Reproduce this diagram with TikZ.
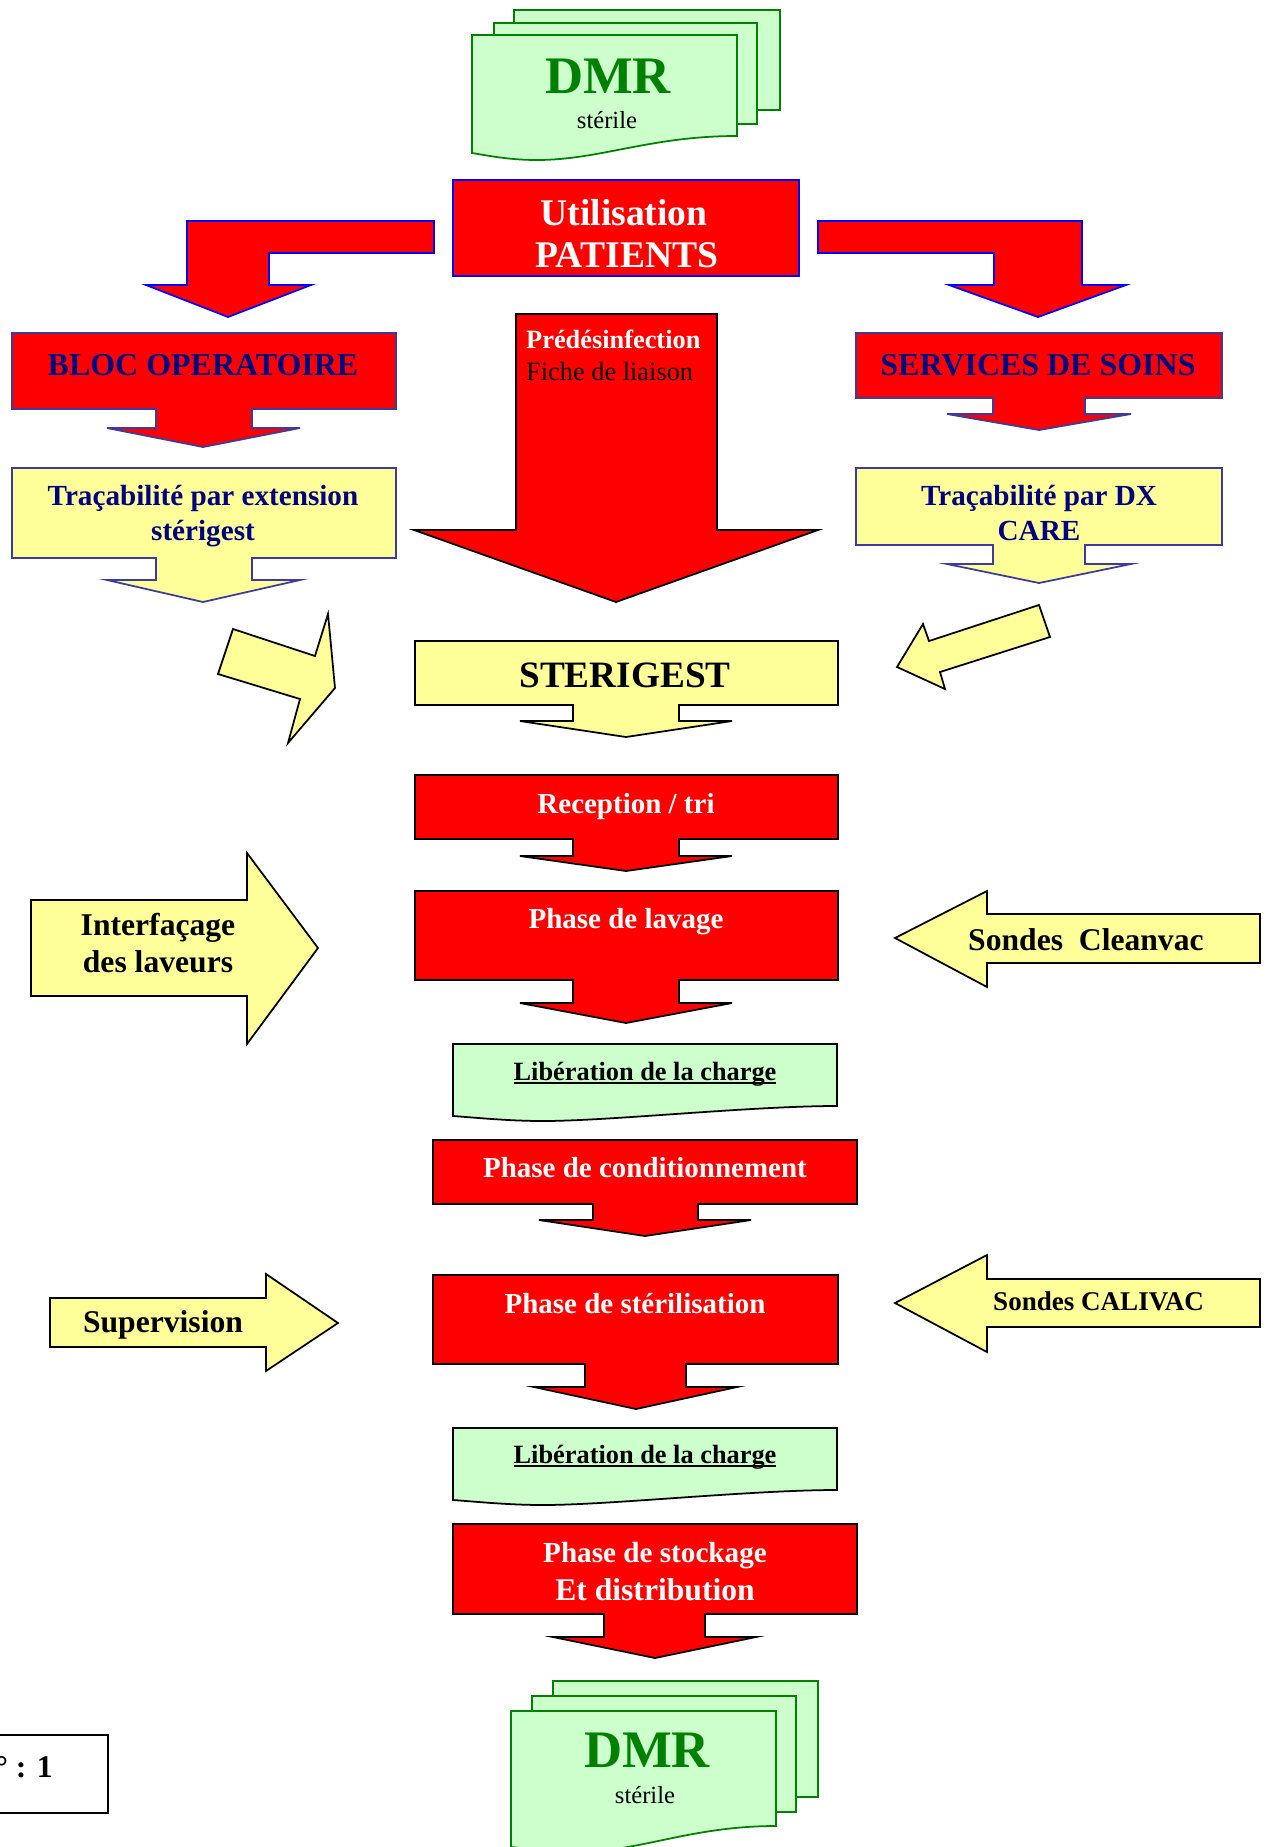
\documentclass[tikz,border=0pt]{standalone}
\usepackage{fontspec}
\setmainfont{Liberation Serif}
\usetikzlibrary{positioning}

\definecolor{lightyellow}{RGB}{255,255,153}
\definecolor{lightgreen}{RGB}{204,255,204}
\definecolor{darkgreen}{RGB}{0,128,0}
\definecolor{navytext}{RGB}{0,0,128}
\definecolor{navyedge}{RGB}{60,60,160}

\newcommand{\ultext}[1]{\setbox0\hbox{#1}\rlap{\rule[-2.2pt]{\wd0}{0.9pt}}\box0}

\begin{document}
\begin{tikzpicture}[x=0.02cm,y=-0.02cm,
    redshape/.style={draw=black,fill=red,line width=1pt},
    redblue/.style={draw=blue,fill=red,line width=1pt},
    rednavy/.style={draw=navyedge,fill=red,line width=1pt},
    yellownavy/.style={draw=navyedge,fill=lightyellow,line width=1pt},
    yellowshape/.style={draw=black,fill=lightyellow,line width=1pt},
    greendoc/.style={draw=darkgreen,fill=lightgreen,line width=1pt},
    greenlib/.style={draw=black,fill=lightgreen,line width=1pt},
    whitetxt/.style={anchor=base,text=white,font=\fontsize{16.5}{19}\selectfont\bfseries},
    navytxt/.style={anchor=base,text=navytext,font=\fontsize{18.2}{21}\selectfont\bfseries},
    blacktxt/.style={anchor=base,text=black,font=\fontsize{18}{21}\selectfont\bfseries},
    dmrtxt/.style={anchor=base,text=darkgreen,font=\fontsize{30}{34}\selectfont\bfseries},
    steriletxt/.style={anchor=base,text=black,font=\fontsize{14}{16}\selectfont}
  ]
    \useasboundingbox (0,0) rectangle (1270,1847);
    \clip (0,0) rectangle (1270,1847);

    % DMR sterile (top)
    \draw[greendoc] (514,10) rectangle (780,110);
    \draw[greendoc] (494,23) rectangle (757,124);
    \draw[greendoc] (472,35) -- (737,35) -- (737,136)
      .. controls (650,136) and (600,160) .. (537,160)
      .. controls (510,160) and (490,156) .. (472,153) -- cycle;
    \node[dmrtxt] (dmrtop) at (608,93) {DMR};
    \node[steriletxt] (steriletop) at (607,128) {stérile};

    % Utilisation patients and the two bent arrows
    \draw[redblue] (453,180) rectangle (799,276);
    \node[whitetxt,font=\fontsize{21.4}{24}\selectfont\bfseries] (util1) at (624,225) {Utilisation};
    \node[whitetxt,font=\fontsize{21.4}{24}\selectfont\bfseries] (util2) at (627,267) {PATIENTS};
    \draw[redblue] (434,221) -- (187,221) -- (187,285) -- (146,285) -- (228,317)
      -- (311,285) -- (269,285) -- (269,253) -- (434,253) -- cycle;
    \draw[redblue] (818,221) -- (1082,221) -- (1082,285) -- (1126,285) -- (1038,317)
      -- (949,285) -- (994,285) -- (994,253) -- (818,253) -- cycle;

    % Left branch
    \draw[rednavy] (12,333) -- (396,333) -- (396,409) -- (252,409) -- (252,428) -- (300,428)
      -- (203,447) -- (107,428) -- (156,428) -- (156,409) -- (12,409) -- cycle;
    \node[navytxt] (bloc) at (203,375) {BLOC OPERATOIRE};
    \draw[yellownavy] (12,468) -- (396,468) -- (396,558) -- (252,558) -- (252,580) -- (300,580)
      -- (203,602) -- (107,580) -- (156,580) -- (156,558) -- (12,558) -- cycle;
    \node[navytxt,font=\fontsize{16.6}{19}\selectfont\bfseries] (tracl1) at (203,505) {Traçabilité par extension};
    \node[navytxt,font=\fontsize{16.6}{19}\selectfont\bfseries] (tracl2) at (203,540) {stérigest};

    % Right branch
    \draw[rednavy] (856,333) -- (1222,333) -- (1222,398) -- (1085,398) -- (1085,414) -- (1131,414)
      -- (1039,430) -- (947,414) -- (993,414) -- (993,398) -- (856,398) -- cycle;
    \node[navytxt] (serv) at (1038,375) {SERVICES DE SOINS};
    \draw[yellownavy] (856,468) -- (1222,468) -- (1222,545) -- (1085,545) -- (1085,564) -- (1131,564)
      -- (1039,583) -- (947,564) -- (993,564) -- (993,545) -- (856,545) -- cycle;
    \node[navytxt,font=\fontsize{16.6}{19}\selectfont\bfseries] (tracr1) at (1039,505) {Traçabilité par DX};
    \node[navytxt,font=\fontsize{16.6}{19}\selectfont\bfseries] (tracr2) at (1039,540) {CARE};

    % Central big arrow
    \draw[redshape] (516,314) -- (717,314) -- (717,530) -- (818,530) -- (616,602)
      -- (414,530) -- (516,530) -- cycle;
    \node[whitetxt,anchor=base west,font=\fontsize{15}{18}\selectfont\bfseries] (predes) at (520,348) {Prédésinfection};
    \node[anchor=base west,font=\fontsize{15}{18}\selectfont] (fiche) at (520,380) {Fiche de liaison};

    % Side arrows towards STERIGEST
    \draw[yellowshape] (233,629) -- (315,656) -- (328,614) -- (335,688) -- (288,743)
      -- (300,699) -- (218,674) -- cycle;
    \draw[yellowshape] (897,667) -- (923,624) -- (929,641) -- (1039,605) -- (1050,637)
      -- (940,672) -- (945,689) -- cycle;

    % STERIGEST
    \draw[yellowshape] (415,641) -- (838,641) -- (838,705) -- (679,705) -- (679,721) -- (732,721)
      -- (626,737) -- (520,721) -- (573,721) -- (573,705) -- (415,705) -- cycle;
    \node[blacktxt,font=\fontsize{21.2}{24}\selectfont\bfseries] (sterigest) at (625,687) {STERIGEST};

    % Reception / tri
    \draw[redshape] (415,775) -- (838,775) -- (838,839) -- (679,839) -- (679,856) -- (732,856)
      -- (626,871) -- (520,856) -- (573,856) -- (573,839) -- (415,839) -- cycle;
    \node[whitetxt] (recep) at (626,813) {Reception / tri};

    % Phase de lavage
    \draw[redshape] (415,891) -- (838,891) -- (838,980) -- (679,980) -- (679,1003) -- (732,1003)
      -- (626,1023) -- (520,1003) -- (573,1003) -- (573,980) -- (415,980) -- cycle;
    \node[whitetxt] (lavage) at (626,928) {Phase de lavage};

    % Interfacage / Cleanvac
    \draw[yellowshape] (31,900) -- (247,900) -- (247,853) -- (318,948) -- (247,1044)
      -- (247,996) -- (31,996) -- cycle;
    \node[blacktxt] (interf1) at (158,935) {Interfaçage};
    \node[blacktxt] (interf2) at (158,972) {des laveurs};
    \draw[yellowshape] (895,938) -- (987,891) -- (987,914) -- (1260,914) -- (1260,963)
      -- (987,963) -- (987,987) -- cycle;
    \node[blacktxt,anchor=base west] (cleanvac) at (962,950) {Sondes\ \ Cleanvac};

    % Liberation de la charge (1)
    \draw[greenlib] (453,1044) -- (837,1044) -- (837,1106)
      .. controls (750,1106) and (610,1121) .. (543,1121)
      .. controls (510,1121) and (480,1118) .. (453,1116) -- cycle;
    \node[blacktxt,font=\fontsize{15}{18}\selectfont\bfseries] (lib1) at (645,1080) {\ultext{Libération de la charge}};

    % Phase de conditionnement
    \draw[redshape] (433,1140) -- (857,1140) -- (857,1204) -- (698,1204) -- (698,1220) -- (751,1220)
      -- (645,1236) -- (539,1220) -- (593,1220) -- (593,1204) -- (433,1204) -- cycle;
    \node[whitetxt] (cond) at (645,1177) {Phase de conditionnement};

    % Phase de sterilisation
    \draw[redshape] (433,1275) -- (838,1275) -- (838,1364) -- (686,1364) -- (686,1387) -- (737,1387)
      -- (636,1409) -- (534,1387) -- (585,1387) -- (585,1364) -- (433,1364) -- cycle;
    \node[whitetxt] (steril) at (635,1313) {Phase de stérilisation};

    % Supervision / CALIVAC
    \draw[yellowshape] (50,1298) -- (266,1298) -- (266,1274) -- (338,1323) -- (266,1371)
      -- (266,1347) -- (50,1347) -- cycle;
    \node[blacktxt] (superv) at (163,1332) {Supervision};
    \draw[yellowshape] (895,1303) -- (987,1255) -- (987,1279) -- (1260,1279) -- (1260,1327)
      -- (987,1327) -- (987,1352) -- cycle;
    \node[blacktxt,anchor=base west,font=\fontsize{15.4}{18}\selectfont\bfseries] (calivac) at (987,1310) {Sondes CALIVAC};

    % Liberation de la charge (2)
    \draw[greenlib] (453,1428) -- (837,1428) -- (837,1490)
      .. controls (750,1490) and (610,1505) .. (543,1505)
      .. controls (510,1505) and (480,1502) .. (453,1500) -- cycle;
    \node[blacktxt,font=\fontsize{15}{18}\selectfont\bfseries] (lib2) at (645,1463) {\ultext{Libération de la charge}};

    % Phase de stockage
    \draw[redshape] (453,1524) -- (857,1524) -- (857,1614) -- (705,1614) -- (705,1637) -- (756,1637)
      -- (655,1658) -- (553,1637) -- (604,1637) -- (604,1614) -- (453,1614) -- cycle;
    \node[whitetxt,font=\fontsize{16.6}{19}\selectfont\bfseries] (stock1) at (655,1562) {Phase de stockage};
    \node[whitetxt,font=\fontsize{18}{21}\selectfont\bfseries] (stock2) at (655,1600) {Et distribution};

    % DMR sterile (bottom)
    \draw[greendoc] (553,1681) rectangle (818,1797);
    \draw[greendoc] (532,1696) rectangle (796,1812);
    \draw[greendoc] (511,1711) -- (776,1711) -- (776,1826)
      .. controls (690,1826) and (640,1852) .. (576,1852)
      .. controls (550,1852) and (530,1849) .. (511,1847) -- cycle;
    \node[dmrtxt] (dmrbot) at (647,1767) {DMR};
    \node[steriletxt] (sterilebot) at (645,1803) {stérile};

    % Numero
    \draw[line width=1pt] (-10,1735) rectangle (108,1813);
    \node[blacktxt,anchor=base east] (num) at (59,1777) {n° : 1};
  \end{tikzpicture}
\end{document}
